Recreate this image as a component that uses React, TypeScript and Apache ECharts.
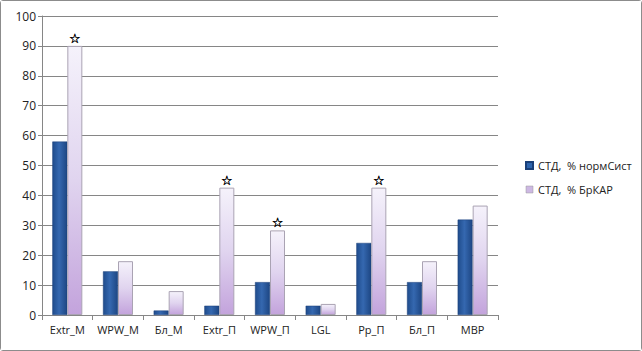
import React, { useEffect, useRef } from "react";
import * as echarts from "echarts";

const categories = ["Extr_M", "WPW_M", "Бл_M", "Extr_П", "WPW_П", "LGL", "Рр_П", "Бл_П", "MBP"];
const seriesNames = ["СТД,  % нормСист", "СТД,  % БрКАР"];
const normSist = [58, 14.6, 1.5, 3.1, 11, 3.1, 24.1, 11, 31.9];
const brKar = [90, 18, 8, 42.6, 28.3, 3.7, 42.6, 18, 36.6];
const starred = ["Extr_M", "Extr_П", "WPW_П", "Рр_П"];
const yTicks = { min: 0, max: 100, interval: 10 };

export default function App() {
  const ref = useRef<HTMLDivElement>(null);
  useEffect(() => {
    if (!ref.current) return;
    const chart = echarts.init(ref.current, null, { renderer: "svg" });
    const blue = new echarts.graphic.LinearGradient(0, 0, 1, 0, [
      { offset: 0, color: "#1f4c8c" },
      { offset: 0.45, color: "#3568b0" },
      { offset: 1, color: "#1d4683" },
    ]);
    const purple = new echarts.graphic.LinearGradient(0, 0, 0, 1, [
      { offset: 0, color: "#f5f2fb" },
      { offset: 0.5, color: "#e0d4ef" },
      { offset: 1, color: "#c3a3dc" },
    ]);
    chart.setOption({
      animation: false,
      backgroundColor: "#ffffff",
      textStyle: { fontFamily: "Open Sans, sans-serif" },
      grid: { left: 41, right: 143, top: 15, bottom: 35, containLabel: false },
      legend: {
        orient: "vertical",
        left: 519,
        top: 154,
        itemWidth: 7,
        itemHeight: 7,
        itemGap: 13,
        icon: "rect",
        textStyle: { fontSize: 11, color: "#222", fontFamily: "Open Sans, sans-serif" },
        data: [
          { name: seriesNames[0], itemStyle: { color: "#2e64ad" } },
          { name: seriesNames[1], itemStyle: { color: "#cdb8e3", borderColor: "#999", borderWidth: 0.5 } },
        ],
      },
      xAxis: {
        type: "category",
        data: categories,
        axisLine: { lineStyle: { color: "#868686", width: 1 } },
        axisTick: { show: true, alignWithLabel: false, length: 5, lineStyle: { color: "#868686" } },
        axisLabel: { fontSize: 11, color: "#222", margin: 9, interval: 0 },
      },
      yAxis: {
        type: "value",
        min: yTicks.min,
        max: yTicks.max,
        interval: yTicks.interval,
        axisLine: { show: true, lineStyle: { color: "#868686" } },
        axisTick: { show: true, length: 4, lineStyle: { color: "#868686" } },
        axisLabel: { fontSize: 12, color: "#222", margin: 6 },
        splitLine: { lineStyle: { color: "#868686", width: 1 } },
      },
      series: [
        {
          name: seriesNames[0],
          type: "bar",
          data: normSist,
          barWidth: 15,
          barGap: "0%",
          itemStyle: { color: blue, borderColor: "#1a3f78", borderWidth: 0.5 },
        },
        {
          name: seriesNames[1],
          type: "bar",
          data: brKar.map((v, i) => ({
            value: v,
            label: {
              show: starred.includes(categories[i]),
              position: "top",
              distance: 1,
              formatter: "☆",
              fontSize: 13,
              color: "#000",
              textBorderColor: "#000",
              textBorderWidth: 0.4,
              fontFamily: "DejaVu Sans",
            },
          })),
          barWidth: 15,
          barGap: "0%",
          itemStyle: { color: purple, borderColor: "#aaa3b3", borderWidth: 1 },
        },
      ],
    });
    return () => chart.dispose();
  }, []);
  return (
    <div
      ref={ref}
      style={{
        position: "fixed",
        left: 0,
        top: 0,
        width: 642,
        height: 351,
        boxSizing: "border-box",
        border: "1px solid #8c8c8c",
        borderRadius: 3,
        background: "#fff",
      }}
    />
  );
}
